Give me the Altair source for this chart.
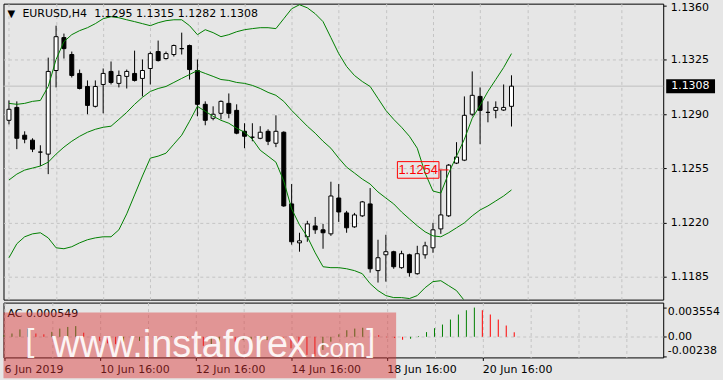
import altair as alt
import pandas as pd

# ---------------- data ----------------
bar_index = list(range(65))

opens = [1.12860, 1.12943, 1.12764, 1.12732, 1.12655,
         1.12642, 1.13181, 1.13393, 1.13284, 1.13162,
         1.13078, 1.12950, 1.13091, 1.13175, 1.13098,
         1.13143, 1.13162, 1.13130, 1.13194, 1.13303,
         1.13258, 1.13284, 1.13322, 1.13342, 1.13181,
         1.12963, 1.12873, 1.12905, 1.12969, 1.12924,
         1.12789, 1.12751, 1.12744, 1.12789, 1.12712,
         1.12783, 1.12321, 1.12070, 1.12109, 1.12179,
         1.12154, 1.12128, 1.12359, 1.12263, 1.12173,
         1.12244, 1.12321, 1.11891, 1.11993, 1.12013,
         1.11910, 1.11993, 1.11871, 1.11993, 1.12038,
         1.12160, 1.12244, 1.12584, 1.12603, 1.12899,
         1.13014, 1.12911, 1.12924, 1.12926, 1.12950]

highs = [1.12988, 1.12982, 1.12789, 1.12744, 1.12699,
         1.13264, 1.13470, 1.13419, 1.13303, 1.13187,
         1.13117, 1.13117, 1.13194, 1.13239, 1.13181,
         1.13187, 1.13309, 1.13252, 1.13303, 1.13374,
         1.13303, 1.13348, 1.13425, 1.13348, 1.13252,
         1.12982, 1.12950, 1.12988, 1.13033, 1.12963,
         1.12841, 1.12841, 1.12822, 1.12802, 1.12892,
         1.12789, 1.12449, 1.12135, 1.12212, 1.12237,
         1.12192, 1.12464, 1.12449, 1.12276, 1.12263,
         1.12340, 1.12423, 1.12090, 1.12122, 1.12019,
         1.12019, 1.12000, 1.12051, 1.12077, 1.12199,
         1.12539, 1.12578, 1.12719, 1.13014, 1.13175,
         1.13072, 1.12982, 1.12982, 1.13091, 1.13150]

lows = [1.12834, 1.12674, 1.12712, 1.12655, 1.12565,
        1.12513, 1.13072, 1.13258, 1.13136, 1.13059,
        1.12899, 1.12943, 1.12905, 1.13091, 1.13072,
        1.13065, 1.13110, 1.13014, 1.13091, 1.13239,
        1.13252, 1.13271, 1.13284, 1.13123, 1.12886,
        1.12828, 1.12860, 1.12866, 1.12873, 1.12770,
        1.12680, 1.12725, 1.12738, 1.12700, 1.12687,
        1.12302, 1.12058, 1.12013, 1.12077, 1.12128,
        1.12032, 1.12115, 1.12205, 1.12135, 1.12167,
        1.12237, 1.11878, 1.11814, 1.11820, 1.11903,
        1.11903, 1.11852, 1.11865, 1.11968, 1.12006,
        1.12128, 1.12237, 1.12578, 1.12597, 1.12886,
        1.12706, 1.12847, 1.12873, 1.12921, 1.12820]

closes = [1.12931, 1.12744, 1.12738, 1.12674, 1.12655,
          1.13175, 1.13399, 1.13322, 1.13149, 1.13065,
          1.12956, 1.13078, 1.13162, 1.13104, 1.13149,
          1.13175, 1.13117, 1.13181, 1.13290, 1.13245,
          1.13290, 1.13342, 1.13322, 1.13187, 1.12963,
          1.12860, 1.12899, 1.12982, 1.12905, 1.12777,
          1.12757, 1.12751, 1.12783, 1.12725, 1.12789,
          1.12308, 1.12077, 1.12083, 1.12192, 1.12154,
          1.12135, 1.12372, 1.12269, 1.12167, 1.12250,
          1.12334, 1.11903, 1.11974, 1.12013, 1.11916,
          1.12000, 1.11878, 1.12000, 1.12051, 1.12154,
          1.12250, 1.12571, 1.12623, 1.12892, 1.13021,
          1.12924, 1.12911, 1.12943, 1.12943, 1.13080]

bb_upper = [1.12969, 1.12963, 1.12969, 1.12982, 1.12988,
            1.13078, 1.13252, 1.13367, 1.13412, 1.13438,
            1.13457, 1.13483, 1.13515, 1.13528, 1.13521,
            1.13508, 1.13496, 1.13483, 1.13470, 1.13489,
            1.13502, 1.13508, 1.13508, 1.13470, 1.13412,
            1.13444, 1.13425, 1.13399, 1.13412, 1.13431,
            1.13444, 1.13451, 1.13457, 1.13457, 1.13451,
            1.13515, 1.13579, 1.13605, 1.13585, 1.13547,
            1.13496, 1.13393, 1.13290, 1.13207, 1.13149,
            1.13110, 1.13078, 1.13001, 1.12924, 1.12866,
            1.12815, 1.12757, 1.12680, 1.12520, 1.12404,
            1.12391, 1.12520, 1.12629, 1.12738, 1.12873,
            1.12956, 1.13046, 1.13123, 1.13200, 1.13290]

bb_middle = [1.12475, 1.12513, 1.12539, 1.12552, 1.12565,
             1.12590, 1.12642, 1.12687, 1.12725, 1.12757,
             1.12783, 1.12802, 1.12815, 1.12822, 1.12866,
             1.12911, 1.12963, 1.13008, 1.13046, 1.13065,
             1.13078, 1.13104, 1.13130, 1.13155, 1.13181,
             1.13162, 1.13143, 1.13123, 1.13117, 1.13104,
             1.13098, 1.13085, 1.13065, 1.13040, 1.13021,
             1.12982, 1.12924, 1.12873, 1.12822, 1.12777,
             1.12725, 1.12680, 1.12616, 1.12558, 1.12520,
             1.12481, 1.12449, 1.12398, 1.12359, 1.12321,
             1.12269, 1.12224, 1.12180, 1.12141, 1.12115,
             1.12109, 1.12135, 1.12167, 1.12199, 1.12244,
             1.12282, 1.12308, 1.12340, 1.12372, 1.12411]

bb_lower = [1.11974, 1.12064, 1.12109, 1.12128, 1.12135,
            1.12102, 1.12038, 1.12032, 1.12045, 1.12070,
            1.12090, 1.12102, 1.12109, 1.12109, 1.12154,
            1.12257, 1.12379, 1.12501, 1.12616, 1.12629,
            1.12648, 1.12706, 1.12764, 1.12854, 1.12950,
            1.12918, 1.12886, 1.12860, 1.12841, 1.12809,
            1.12783, 1.12738, 1.12667, 1.12629, 1.12590,
            1.12468, 1.12289, 1.12186, 1.12109, 1.12006,
            1.11916, 1.11910, 1.11910, 1.11903, 1.11891,
            1.11871, 1.11807, 1.11762, 1.11730, 1.11717,
            1.11717, 1.11711, 1.11730, 1.11781, 1.11820,
            1.11826, 1.11794, 1.11762, 1.11698, 1.11647,
            1.11602, 1.11570, 1.11544, 1.11525, 1.11505]

ac_values = [0.0002, 0.0004, 0.0009, 0.0010, 0.0004,
             0.0003, 0.0006, 0.0010, 0.0012, 0.0013,
             0.0005, -0.0003, -0.0005, -0.0008, -0.0009,
             -0.0006, -0.0007, -0.0005, -0.0006, -0.0004,
             -0.0002, 0.0001, -0.0001, -0.0003, -0.0008,
             -0.0011, -0.0009, -0.0006, -0.0004, -0.0006,
             -0.0004, -0.0003, -0.0005, -0.0004, -0.0002,
             -0.0009, -0.0014, -0.0018, -0.0022, -0.002383,
             -0.0016, -0.0006, 0.0003, 0.0008, 0.0010,
             0.0011, 0.0005, 0.0002, -0.00005, -0.00015,
             -0.00036, -0.00024, 0.00008, 0.00057, 0.00105,
             0.00149, 0.00210, 0.00271, 0.00323, 0.003554,
             0.00323, 0.00271, 0.00210, 0.00137, 0.000549]

tick_bars = [0, 12, 24, 36, 48, 60]
tick_labels = ["6 Jun 2019", "10 Jun 16:00", "12 Jun 16:00",
               "14 Jun 16:00", "18 Jun 16:00", "20 Jun 16:00"]
grid_bars = list(range(0, 79, 6))
price_ticks = [1.1185, 1.1220, 1.1255, 1.1290, 1.1325, 1.1360]
ac_ticks = [0.003554, 0.0, -0.002383]
ac_tick_labels = ["0.003554", "0.00", "-0.00238"]
marker_price = 1.1254
marker_bar = 56
symbol = "EURUSD,H4"
indicator = "AC"
wm_main = "www.instaforex"
wm_tail = ".com"

# ---------------- styling ----------------
W, H_MAIN, H_AC = 662, 297, 55
BG = "#e6e6e6"
GRID = "#c4c4c4"
GREEN = "#008000"
RED = "#ff0000"
FONT = "DejaVu Sans"
WFONT = "Liberation Sans"

x_scale = alt.Scale(domain=[-0.0625, 82.6875], nice=False, zero=False)
p_scale = alt.Scale(domain=[1.11704, 1.13612], nice=False, zero=False)
ac_scale = alt.Scale(domain=[-0.002509, 0.00416], nice=False, zero=False)

# ---------------- tables ----------------
candles = pd.DataFrame({"i": bar_index, "open": opens, "high": highs,
                        "low": lows, "close": closes})
bands = pd.concat([
    pd.DataFrame({"i": bar_index, "value": bb_upper, "band": "upper"}),
    pd.DataFrame({"i": bar_index, "value": bb_middle, "band": "middle"}),
    pd.DataFrame({"i": bar_index, "value": bb_lower, "band": "lower"}),
], ignore_index=True)
last = pd.DataFrame({"price": [closes[-1]], "label": [f"{closes[-1]:.4f}"]})
marker = pd.DataFrame({"bar": [marker_bar], "price": [marker_price],
                       "label": [f"{marker_price:.4f}"]})
one = pd.DataFrame({"k": [0]})

ac_df = pd.DataFrame({"i": bar_index, "ac": ac_values})
ac_df["zero"] = 0.0
ac_df["dir"] = ["up"] + ["up" if b >= a else "down"
                         for a, b in zip(ac_values[:-1], ac_values[1:])]

# ---------------- axes ----------------
main_x_axis = alt.Axis(values=grid_bars, grid=True, gridColor=GRID, gridDash=[3, 3],
                       labels=False, ticks=False, domain=False, title=None)
price_axis = alt.Axis(orient="right", values=price_ticks, format=".4f", grid=True,
                      gridColor=GRID, gridDash=[3, 3],
                      gridOpacity={"condition": {"test": "datum.value > 1.1359", "value": 0}, "value": 1},
                      domain=False, tickSize=3, tickColor="black", labelPadding=4,
                      labelOffset={"condition": {"test": "datum.value > 1.1359", "value": 2}, "value": 0},
                      labelOverlap=False, title=None)

label_expr = "".join(f"datum.value == {b} ? '{t}' : " for b, t in zip(tick_bars, tick_labels)) + "''"
tick_test = "indexof([" + ",".join(str(b) for b in tick_bars) + "], datum.value) >= 0"
ac_x_axis = alt.Axis(values=grid_bars, grid=True, gridColor=GRID, gridDash=[3, 3],
                     labelExpr=label_expr, labelAlign="left", labelPadding=3,
                     labelOverlap=False, tickSize=3, tickColor="black",
                     tickOpacity={"condition": {"test": tick_test, "value": 1}, "value": 0},
                     domain=False, title=None)

ac_label_expr = "".join(f"datum.value == {v} ? '{t}' : " for v, t in zip(ac_ticks, ac_tick_labels)) + "''"
ac_y_axis = alt.Axis(orient="right", values=ac_ticks, labelExpr=ac_label_expr, grid=True,
                     gridColor=GRID, gridDash=[3, 3],
                     gridOpacity={"condition": {"test": "datum.value == 0", "value": 1}, "value": 0},
                     tickSize=3, tickColor="black", labelPadding=1,
                     labelOffset={"condition": [{"test": "datum.value > 0.001", "value": 3.7},
                                                {"test": "datum.value < -0.001", "value": -6}],
                                  "value": 0},
                     labelOverlap=False, domain=False, title=None)

# ---------------- main panel ----------------
price_line = alt.Chart(last).mark_rule(color="#c0c0c0", strokeWidth=1).encode(
    y=alt.Y("price:Q", scale=p_scale, axis=price_axis))

wicks = alt.Chart(candles).mark_rule(color="black", strokeWidth=1, clip=True).encode(
    x=alt.X("i:Q", scale=x_scale, axis=main_x_axis),
    y=alt.Y("low:Q", scale=p_scale), y2="high:Q")

bodies = alt.Chart(candles).mark_bar(size=4, stroke="black", strokeWidth=1, clip=True).encode(
    x=alt.X("i:Q", scale=x_scale),
    y=alt.Y("open:Q", scale=p_scale), y2="close:Q",
    fill=alt.condition("datum.close >= datum.open", alt.value("white"), alt.value("black")))

band_lines = alt.Chart(bands).mark_line(color=GREEN, strokeWidth=1, clip=True).encode(
    x=alt.X("i:Q", scale=x_scale), y=alt.Y("value:Q", scale=p_scale), detail="band:N")

marker_line = alt.Chart(marker).mark_rule(color=RED, strokeWidth=1, xOffset=-10).encode(
    x=alt.X("bar:Q", scale=x_scale), x2="bar:Q", y=alt.Y("price:Q", scale=p_scale))
marker_box = alt.Chart(marker).mark_point(shape="M-1,-0.4H1V0.4H-1Z", size=1739, filled=False,
                                          color=RED, strokeWidth=1, opacity=1, xOffset=-30.6).encode(
    x=alt.X("bar:Q", scale=x_scale), y=alt.Y("price:Q", scale=p_scale))
marker_text = alt.Chart(marker).mark_text(color=RED, font=WFONT, fontSize=13, align="center",
                                          baseline="middle", dx=-30.6).encode(
    x=alt.X("bar:Q", scale=x_scale), y=alt.Y("price:Q", scale=p_scale), text="label:N")

price_box = alt.Chart(last).mark_rule(color="black", strokeWidth=14).encode(
    x=alt.value(665), x2=alt.value(714), y=alt.Y("price:Q", scale=p_scale))
price_text = alt.Chart(last).mark_text(color="white", font=FONT, fontSize=11, align="left",
                                       baseline="middle").encode(
    x=alt.value(670), y=alt.Y("price:Q", scale=p_scale), text="label:N")

ohlc_text = " ".join(f"{v:.4f}" for v in (opens[-1], highs[-1], lows[-1], closes[-1]))
t_tri = alt.Chart(one).mark_text(text="▼", font=FONT, fontSize=10, align="left",
                                 baseline="middle", color="black").encode(x=alt.value(4), y=alt.value(10.5))
t_sym = alt.Chart(one).mark_text(text=symbol, font=FONT, fontSize=11, align="left",
                                 baseline="middle", color="black").encode(x=alt.value(19), y=alt.value(10.5))
t_ohlc = alt.Chart(one).mark_text(text=ohlc_text, font=FONT, fontSize=11, align="left",
                                  baseline="middle", color="black").encode(x=alt.value(91), y=alt.value(10.5))

main = alt.layer(price_line, wicks, bodies, band_lines, marker_line, marker_box, marker_text,
                 price_box, price_text, t_tri, t_sym, t_ohlc).properties(width=W, height=H_MAIN)

# ---------------- AC panel ----------------
ac_bars = alt.Chart(ac_df).mark_rule(strokeWidth=1).encode(
    x=alt.X("i:Q", scale=x_scale, axis=ac_x_axis),
    y=alt.Y("zero:Q", scale=ac_scale, axis=ac_y_axis), y2="ac:Q",
    color=alt.Color("dir:N", scale=alt.Scale(domain=["up", "down"], range=[GREEN, RED]), legend=None))

ac_label = alt.Chart(one).mark_text(text=f"{indicator} {ac_values[-1]:.6f}", font=FONT, fontSize=11,
                                    align="left", baseline="middle", color="black").encode(
    x=alt.value(4), y=alt.value(11))

wm_rect = alt.Chart(one).mark_rect(color="#dc3232", opacity=0.45).encode(
    x=alt.value(0), x2=alt.value(394), y=alt.value(10), y2=alt.value(76))
wm_l = alt.Chart(one).mark_text(text="[", font=WFONT, fontSize=32, align="left", baseline="alphabetic",
                                color="white", opacity=0.9).encode(x=alt.value(22), y=alt.value(49))
wm_m = alt.Chart(one).mark_text(text=wm_main, font=WFONT, fontSize=38, align="left", baseline="alphabetic",
                                color="white", opacity=0.9).encode(x=alt.value(49), y=alt.value(55))
wm_t = alt.Chart(one).mark_text(text=wm_tail, font=WFONT, fontSize=26, align="left", baseline="alphabetic",
                                color="white", opacity=0.9).encode(x=alt.value(307), y=alt.value(55))
wm_r = alt.Chart(one).mark_text(text="]", font=WFONT, fontSize=32, align="left", baseline="alphabetic",
                                color="white", opacity=0.9).encode(x=alt.value(364), y=alt.value(49))

ac_panel = alt.layer(ac_bars, ac_label, wm_rect, wm_l, wm_m, wm_t, wm_r).properties(width=W, height=H_AC)

chart = alt.vconcat(main, ac_panel, spacing=3, bounds="flush").properties(
    padding={"left": 2.5, "top": 0, "right": 0, "bottom": 0},
    background=BG,
).configure_view(
    stroke="black", strokeWidth=1, fill=BG
).configure_axis(
    labelFont=FONT, labelFontSize=11, labelColor="black"
)

chart.save("out.html", embed_options={"renderer": "svg", "actions": False})
